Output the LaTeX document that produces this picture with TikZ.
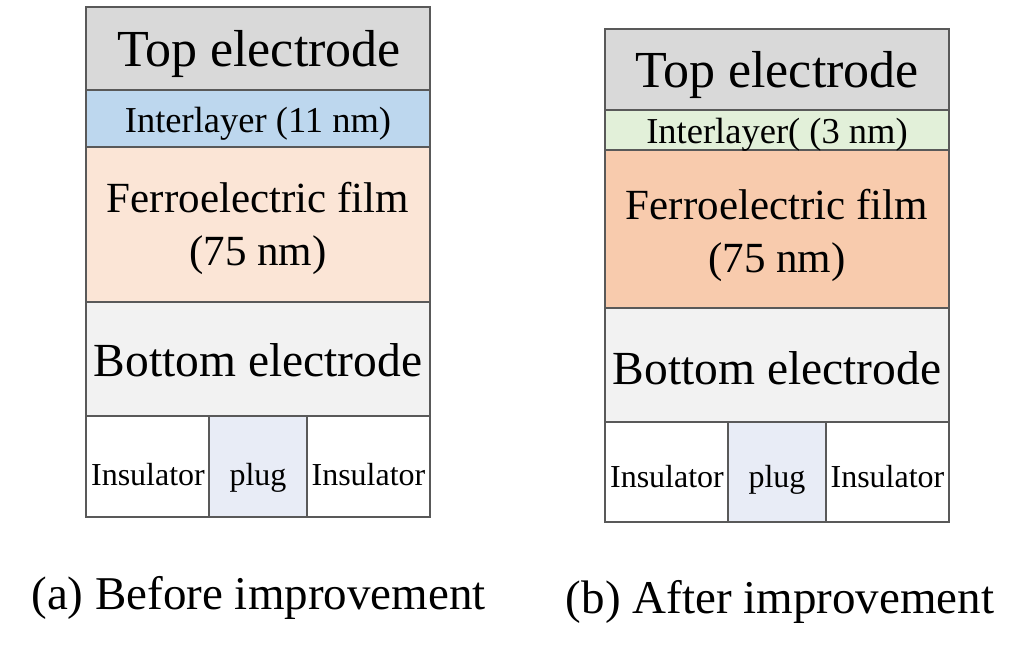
\documentclass[tikz,border=0pt]{standalone}
\usepackage{fontspec}
\setmainfont{Liberation Serif}
\definecolor{edge}{HTML}{595959}
\definecolor{topc}{HTML}{D9D9D9}
\definecolor{interA}{HTML}{BDD7EE}
\definecolor{interB}{HTML}{E2F0D9}
\definecolor{ferroA}{HTML}{FBE5D6}
\definecolor{ferroB}{HTML}{F8CBAD}
\definecolor{botc}{HTML}{F2F2F2}
\definecolor{plugc}{HTML}{E8ECF6}
\begin{document}
\begin{tikzpicture}[x=1pt,y=-1pt,
  layer/.style={draw=edge, line width=2pt, inner sep=0pt, outer sep=0pt, rectangle},
  wide/.style={minimum width=344pt},
  cell/.style={minimum width=123pt},
  plugcell/.style={minimum width=98pt, fill=plugc},
  txt/.style={inner sep=0pt, anchor=base},
  big/.style={font=\fontsize{52}{60}\selectfont},
  mid/.style={font=\fontsize{47.5}{56}\selectfont},
  ferro/.style={font=\fontsize{43}{53}\selectfont},
  inter/.style={font=\fontsize{36.5}{42}\selectfont},
  small/.style={font=\fontsize{32}{38}\selectfont},
  captxt/.style={font=\fontsize{47}{56}\selectfont}]
\useasboundingbox (0,0) rectangle (1024,654);
% ---- left stack ----
\node[layer, wide, fill=topc,   minimum height=83pt]  (la) at (258,48.5) {};
\node[layer, wide, fill=interA, minimum height=57pt]  (lb) at (258,118.5) {};
\node[layer, wide, fill=ferroA, minimum height=155pt] (lc) at (258,224.5) {};
\node[layer, wide, fill=botc,   minimum height=114pt] (ld) at (258,359) {};
\node[layer, cell, fill=white,  minimum height=101pt] (le) at (147.5,466.5) {};
\node[layer, plugcell,          minimum height=101pt] (lf) at (258,466.5) {};
\node[layer, cell, fill=white,  minimum height=101pt] (lg) at (368.5,466.5) {};
\node[txt, big]   (lt1) at (259,66)  {Top electrode};
\node[txt, inter] (lt2) at (258,132) {Interlayer (11 nm)};
\node[txt, ferro] (lt3) at (258,212) {Ferroelectric film};
\node[txt, ferro] (lt4) at (258,265) {(75 nm)};
\node[txt, mid]   (lt5) at (258,376) {Bottom electrode};
\node[txt, small] (lt6) at (148,485) {Insulator};
\node[txt, small] (lt7) at (258,485) {plug};
\node[txt, small] (lt8) at (368.5,485) {Insulator};
\node[txt, captxt] (lcap) at (258.5,609) {(a) Before improvement};
% ---- right stack ----
\node[layer, wide, fill=topc,   minimum height=81pt]  (ra) at (777,69.5) {};
\node[layer, wide, fill=interB, minimum height=40pt]  (rb) at (777,130) {};
\node[layer, wide, fill=ferroB, minimum height=158pt] (rc) at (777,229) {};
\node[layer, wide, fill=botc,   minimum height=114pt] (rd) at (777,365) {};
\node[layer, cell, fill=white,  minimum height=100pt] (re) at (666.5,472) {};
\node[layer, plugcell,          minimum height=100pt] (rf) at (777,472) {};
\node[layer, cell, fill=white,  minimum height=100pt] (rg) at (887.5,472) {};
\node[txt, big]   (rt1) at (777,87)  {Top electrode};
\node[txt, inter] (rt2) at (777,143) {Interlayer( (3 nm)};
\node[txt, ferro] (rt3) at (777,219) {Ferroelectric film};
\node[txt, ferro] (rt4) at (777,272) {(75 nm)};
\node[txt, mid]   (rt5) at (777,384) {Bottom electrode};
\node[txt, small] (rt6) at (667,487) {Insulator};
\node[txt, small] (rt7) at (777,487) {plug};
\node[txt, small] (rt8) at (887.5,487) {Insulator};
\node[txt, captxt] (rcap) at (780,613) {(b) After improvement};
\end{tikzpicture}
\end{document}
